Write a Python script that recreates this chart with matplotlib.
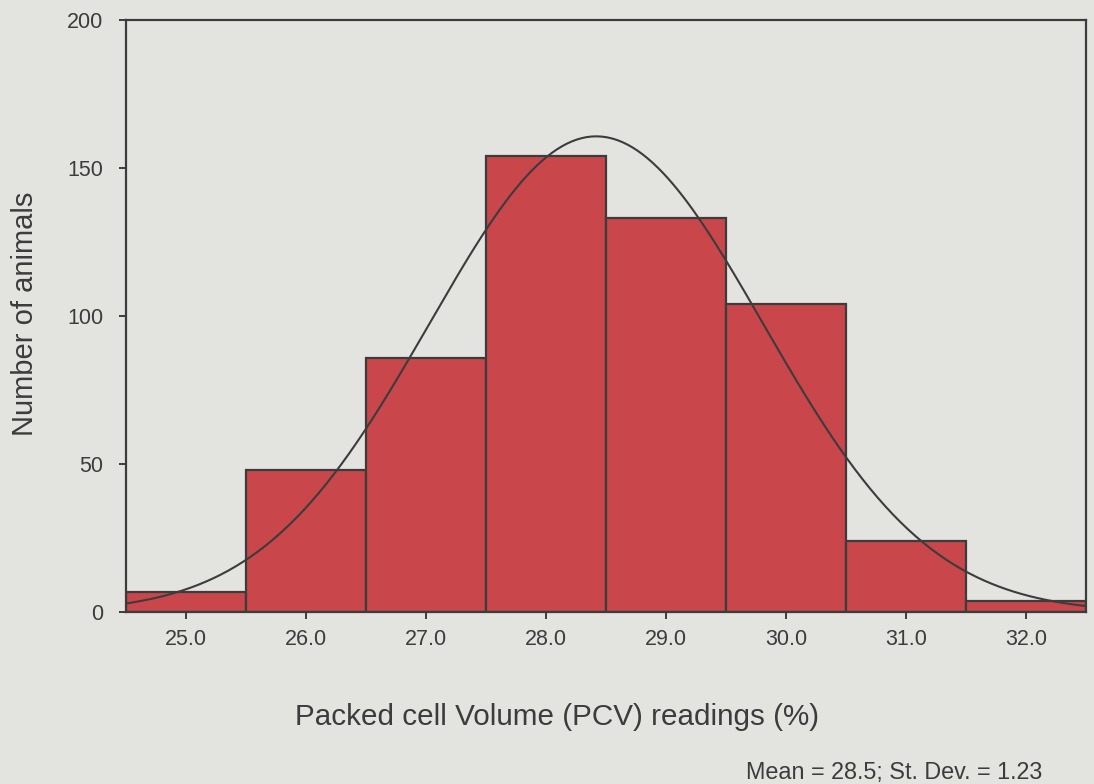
import numpy as np
from matplotlib import pyplot as plt

plt.rcParams['font.family'] = ['Liberation Sans', 'DejaVu Sans']

# PCV bin centres and counts
pcv_bins = [25.0, 26.0, 27.0, 28.0, 29.0, 30.0, 31.0, 32.0]
animal_counts = [7, 48, 86, 154, 133, 104, 24, 4]
tick_labels = ['25.0', '26.0', '27.0', '28.0', '29.0', '30.0', '31.0', '32.0']

# normal curve as drawn (centre and spread)
curve_mean = 28.42
curve_sd = 1.39
stats_text = 'Mean = 28.5; St. Dev. = 1.23'

paper = '#e3e3df'
ink = '#3c3c3c'

fig = plt.figure(figsize=(10.94, 7.84), dpi=100, facecolor=paper)
ax = fig.add_axes([0.1149, 0.2188, 0.8778, 0.7557], facecolor=paper)

ax.bar(pcv_bins, animal_counts, width=1.0, color='#c9464b',
       edgecolor=ink, linewidth=1.6)

# fitted normal curve scaled to the histogram total
xs = np.linspace(24.3, 32.7, 400)
total = sum(animal_counts)
ys = total / (curve_sd * np.sqrt(2 * np.pi)) * np.exp(-0.5 * ((xs - curve_mean) / curve_sd) ** 2)
ax.plot(xs, ys, color=ink, linewidth=1.5)

ax.set_xlim(24.5, 32.5)
ax.set_ylim(0, 200)
ax.set_xticks(pcv_bins)
ax.set_xticklabels(tick_labels)
ax.set_yticks([0, 50, 100, 150, 200])

for side in ax.spines.values():
    side.set_color(ink)
    side.set_linewidth(1.6)
ax.tick_params(direction='out', length=5, width=1.4, color=ink,
               labelcolor=ink, labelsize=15.5)
ax.tick_params(axis='y', pad=11)
ax.tick_params(axis='x', pad=7)

ax.set_xlabel('Packed cell Volume (PCV) readings (%)', fontsize=21.3,
              color=ink, va='center')
ax.xaxis.set_label_coords(0.449, -0.1764)
ax.set_ylabel('Number of animals', fontsize=21, color=ink, va='center')
ax.yaxis.set_label_coords(-0.1049, 0.504)

fig.text(0.9525, 0.0153, stats_text, ha='right', va='center',
         fontsize=16.8, color=ink)

plt.savefig('out.png', dpi=100, facecolor=paper)
